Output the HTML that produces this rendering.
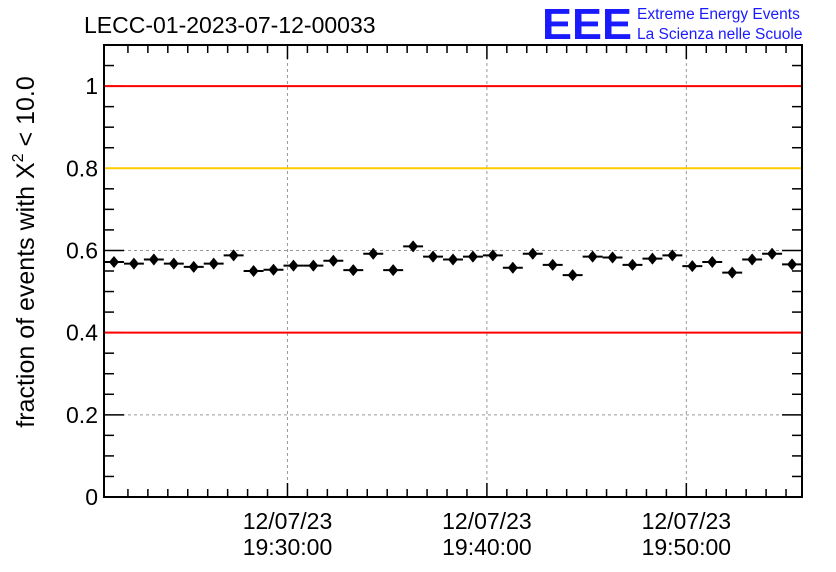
<!DOCTYPE html>
<html><head><meta charset="utf-8"><style>
html,body{margin:0;padding:0;background:#fff;}
svg{display:block;font-family:"Liberation Sans",sans-serif;}
</style></head><body>
<svg id="chart" width="836" height="572" viewBox="0 0 836 572">
<rect width="836" height="572" fill="#fff"/>
<text x="84" y="33" font-size="23">LECC-01-2023-07-12-00033</text>
<g>
<text x="542" y="39" font-size="44" font-weight="bold" fill="#1a1aff" textLength="90" lengthAdjust="spacingAndGlyphs">EEE</text>
<text x="637" y="19" font-size="15.5" fill="#1a1aff">Extreme Energy Events</text>
<text x="637" y="39" font-size="15.5" fill="#1a1aff">La Scienza nelle Scuole</text>
</g>
<g id="grid"></g>
<g id="axes"></g>
<g id="refs"></g>
<g id="marks"></g>
<text transform="translate(34,252) rotate(-90)" font-size="25" text-anchor="middle">fraction of events with X<tspan dy="-11" font-size="16">2</tspan><tspan dy="11"> &lt; 10.0</tspan></text>
</svg>
<script>
const values=[0.572,0.568,0.578,0.568,0.560,0.568,0.588,0.550,0.553,0.563,0.563,0.575,0.552,0.592,0.552,0.610,0.585,0.578,0.585,0.588,0.558,0.592,0.565,0.540,0.585,0.583,0.565,0.580,0.588,0.562,0.572,0.546,0.578,0.592,0.566];
const errors=values.map(()=>0.012);
const yTicks=[0,0.2,0.4,0.6,0.8,1];
const yTickLabels=["0","0.2","0.4","0.6","0.8","1"];
const xTickMinutes=[9.2,19.2,29.2];
const xTickLabels=[["12/07/23","19:30:00"],["12/07/23","19:40:00"],["12/07/23","19:50:00"]];
const refLines=[{v:1,c:"#ff0000",n:"upper-limit-line"},{v:0.8,c:"#ffcc00",n:"warning-line"},{v:0.4,c:"#ff0000",n:"lower-limit-line"}];

const X0=104,X1=802,Y0=497,Y1=45,YMAX=1.1;
const nb=values.length;
const x=i=>X0+(X1-X0)*i/nb;
const y=v=>Y0-(Y0-Y1)*v/YMAX;
const NS="http://www.w3.org/2000/svg";
function mk(tag,attrs,parent){const e=document.createElementNS(NS,tag);for(const k in attrs)e.setAttribute(k,attrs[k]);parent.appendChild(e);return e;}
const grid=document.getElementById('grid'),marks=document.getElementById('marks'),axes=document.getElementById('axes'),refs=document.getElementById('refs');
yTicks.forEach((t,i)=>{if(t>0&&t<1){const l=mk('line',{x1:X0,x2:X1,y1:y(t),y2:y(t),stroke:'#999','stroke-dasharray':'3,3','stroke-width':1},grid);

}});
xTickMinutes.forEach(m=>{const l=mk('line',{x1:x(m),x2:x(m),y1:Y1,y2:Y0,stroke:'#999','stroke-dasharray':'3,3','stroke-width':1},grid);

});
refLines.forEach(r=>{const l=mk('line',{x1:X0+1,x2:X1-1,y1:y(r.v),y2:y(r.v),stroke:r.c,'stroke-width':2},refs);

});
values.forEach((v,i)=>{const g=mk('g',{},marks);


const cx=x(i+0.5),cy=y(v);
mk('line',{x1:x(i),x2:x(i+1),y1:cy,y2:cy,stroke:'#000','stroke-width':2},g);
mk('line',{x1:cx,x2:cx,y1:y(v-errors[i]),y2:y(v+errors[i]),stroke:'#000','stroke-width':2},g);
mk('path',{d:`M${cx} ${cy-6}L${cx+5} ${cy}L${cx} ${cy+6}L${cx-5} ${cy}Z`,fill:'#000'},g);});
const frame=mk('rect',{x:X0,y:Y1,width:X1-X0,height:Y0-Y1,fill:'none',stroke:'#000','stroke-width':2},axes);


for(let v=0;v<=1.1001;v+=0.05){const maj=Math.abs(v*5-Math.round(v*5))<1e-6;const len=maj?20:10;
mk('line',{x1:X0,x2:X0+len,y1:y(v),y2:y(v),stroke:'#000','stroke-width':1.5},axes);
mk('line',{x1:X1,x2:X1-len,y1:y(v),y2:y(v),stroke:'#000','stroke-width':1.5},axes);}
yTicks.forEach((t,i)=>{const tx=mk('text',{x:X0-6,y:y(t)+8,'font-size':23,'text-anchor':'end'},axes);tx.textContent=yTickLabels[i];

});
for(let m=xTickMinutes[0]-8;m<=nb;m+=1){if(m<0)continue;const maj=xTickMinutes.some(t=>Math.abs(t-m)<1e-6);const len=maj?14:8;
mk('line',{x1:x(m),x2:x(m),y1:Y0,y2:Y0-len,stroke:'#000','stroke-width':1.5},axes);
mk('line',{x1:x(m),x2:x(m),y1:Y1,y2:Y1+len,stroke:'#000','stroke-width':1.5},axes);}
xTickMinutes.forEach((m,i)=>{xTickLabels[i].forEach((s,j)=>{const tx=mk('text',{x:x(m),y:529+j*26,'font-size':23,'text-anchor':'middle'},axes);tx.textContent=s;

});});
</script>
</body></html>
